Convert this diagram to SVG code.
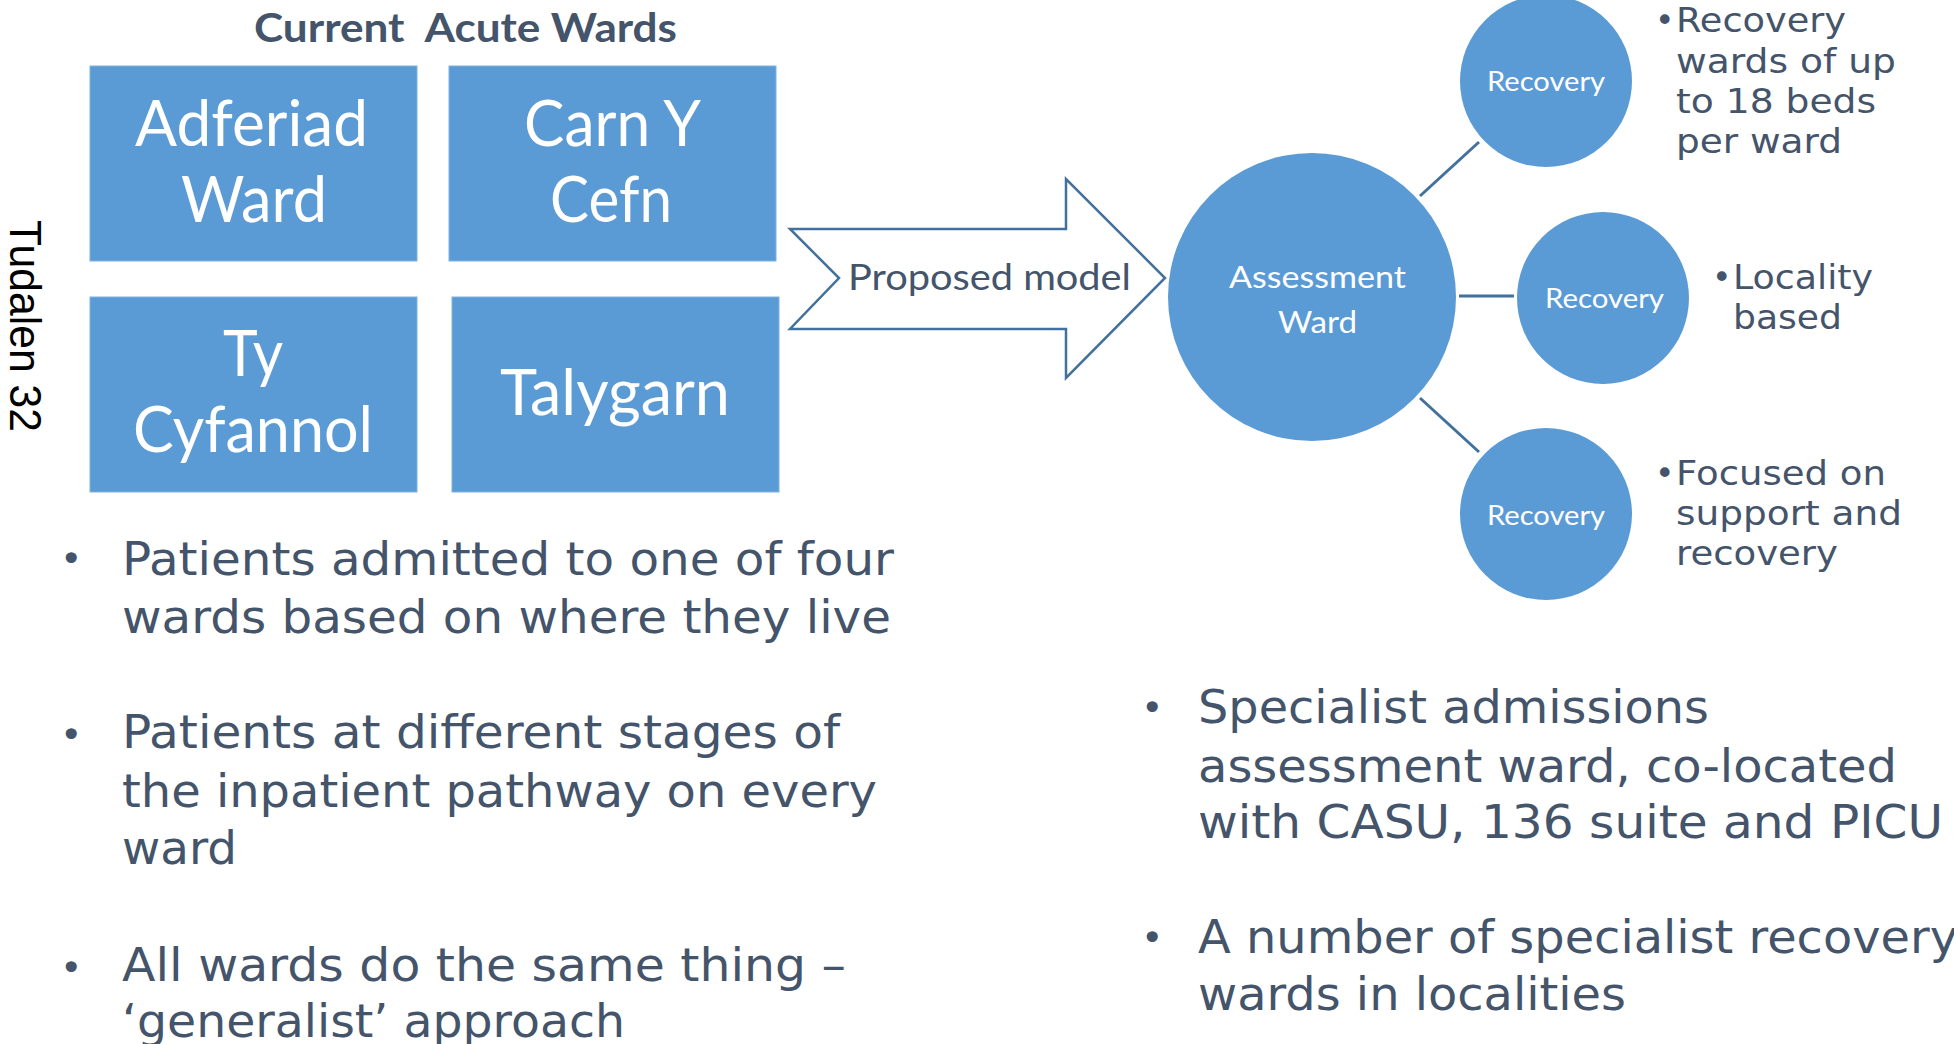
<svg xmlns="http://www.w3.org/2000/svg" width="1954" height="1044" viewBox="0 0 1954 1044">
<style>
.box{fill:#5B9BD5;stroke:#7FB2E0;stroke-width:1}
.circ{fill:#5B9BD5}
.wt{fill:#FFFFFF;font-family:Lato,"Open Sans",sans-serif}
.big{font-size:64px}
.dk{fill:#44546A}
.cal{font-family:Lato,"Open Sans",sans-serif}
.ver{font-family:"DejaVu Sans",Verdana,sans-serif}
.conn{stroke:#41719C;stroke-width:3;fill:none}
</style>
<rect width="1954" height="1044" fill="#FFFFFF"/>
<text x="254" y="42" class="cal dk" font-size="40" font-weight="bold" textLength="423" lengthAdjust="spacingAndGlyphs" xml:space="preserve">Current  Acute Wards</text>
<text transform="translate(10,220) rotate(90)" font-family="Liberation Sans, Arial, sans-serif" font-size="44" fill="#000000" textLength="212" lengthAdjust="spacingAndGlyphs">Tudalen 32</text>

<g id="adferiad">
<rect class="box" x="90" y="66" width="327" height="195"/>
<text class="wt big" x="135" y="146" textLength="233" lengthAdjust="spacingAndGlyphs">Adferiad</text>
<text class="wt big" x="181" y="222" textLength="146" lengthAdjust="spacingAndGlyphs">Ward</text>
</g>
<g id="carn-y-cefn">
<rect class="box" x="449" y="66" width="327" height="195"/>
<text class="wt big" x="524" y="146" textLength="177" lengthAdjust="spacingAndGlyphs">Carn Y</text>
<text class="wt big" x="550" y="222" textLength="122" lengthAdjust="spacingAndGlyphs">Cefn</text>
</g>
<g id="ty-cyfannol">
<rect class="box" x="90" y="297" width="327" height="195"/>
<text class="wt big" x="223" y="376" textLength="60" lengthAdjust="spacingAndGlyphs">Ty</text>
<text class="wt big" x="133" y="452" textLength="240" lengthAdjust="spacingAndGlyphs">Cyfannol</text>
</g>
<g id="talygarn">
<rect class="box" x="452" y="297" width="327" height="195"/>
<text class="wt big" x="500" y="415" textLength="230" lengthAdjust="spacingAndGlyphs">Talygarn</text>
</g>

<g id="proposed-model">
<path d="M790,229 L1066,229 L1066,179 L1165,278 L1066,378 L1066,329 L790,329 L839,278 Z" fill="#FFFFFF" stroke="#41719C" stroke-width="2.5" stroke-linejoin="miter"/>
<text x="848" y="290" class="cal dk" font-size="36" textLength="283" lengthAdjust="spacingAndGlyphs">Proposed model</text>
</g>

<g id="connectors">
<line class="conn" x1="1420" y1="196" x2="1479" y2="142"/>
<line class="conn" x1="1459" y1="296" x2="1514" y2="296"/>
<line class="conn" x1="1420" y1="398" x2="1479" y2="452"/>
</g>

<g id="assessment-ward">
<circle class="circ" cx="1312" cy="297" r="144"/>
<text class="wt" font-size="30" x="1229" y="288" textLength="177" lengthAdjust="spacingAndGlyphs">Assessment</text>
<text class="wt" font-size="30" x="1278" y="333" textLength="79" lengthAdjust="spacingAndGlyphs">Ward</text>
</g>
<g id="recovery-top">
<circle class="circ" cx="1546" cy="81" r="86"/>
<text class="wt" font-size="27" x="1487" y="91" textLength="118" lengthAdjust="spacingAndGlyphs">Recovery</text>
</g>
<g id="recovery-mid">
<circle class="circ" cx="1603" cy="298" r="86"/>
<text class="wt" font-size="27" x="1545" y="308" textLength="119" lengthAdjust="spacingAndGlyphs">Recovery</text>
</g>
<g id="recovery-bottom">
<circle class="circ" cx="1546" cy="514" r="86"/>
<text class="wt" font-size="27" x="1487" y="525" textLength="118" lengthAdjust="spacingAndGlyphs">Recovery</text>
</g>

<g id="notes-right" class="ver dk" font-size="33">
<text x="1655" y="32">•</text>
<text x="1676" y="32" textLength="170" lengthAdjust="spacingAndGlyphs">Recovery</text>
<text x="1676" y="73" textLength="220" lengthAdjust="spacingAndGlyphs">wards of up</text>
<text x="1676" y="113" textLength="200" lengthAdjust="spacingAndGlyphs">to 18 beds</text>
<text x="1676" y="153" textLength="166" lengthAdjust="spacingAndGlyphs">per ward</text>
<text x="1712" y="289">•</text>
<text x="1733" y="289" textLength="140" lengthAdjust="spacingAndGlyphs">Locality</text>
<text x="1733" y="329" textLength="109" lengthAdjust="spacingAndGlyphs">based</text>
<text x="1655" y="485">•</text>
<text x="1676" y="485" textLength="210" lengthAdjust="spacingAndGlyphs">Focused on</text>
<text x="1676" y="525" textLength="226" lengthAdjust="spacingAndGlyphs">support and</text>
<text x="1676" y="565" textLength="162" lengthAdjust="spacingAndGlyphs">recovery</text>
</g>

<g id="bullets-left" class="ver dk" font-size="46">
<text x="60" y="572" font-size="38">•</text>
<text x="122" y="575" textLength="772" lengthAdjust="spacingAndGlyphs">Patients admitted to one of four</text>
<text x="122" y="633" textLength="769" lengthAdjust="spacingAndGlyphs">wards based on where they live</text>
<text x="60" y="748" font-size="38">•</text>
<text x="122" y="748" textLength="718" lengthAdjust="spacingAndGlyphs">Patients at different stages of</text>
<text x="122" y="807" textLength="755" lengthAdjust="spacingAndGlyphs">the inpatient pathway on every</text>
<text x="122" y="864" textLength="115" lengthAdjust="spacingAndGlyphs">ward</text>
<text x="60" y="981" font-size="38">•</text>
<text x="122" y="981" textLength="724" lengthAdjust="spacingAndGlyphs">All wards do the same thing –</text>
<text x="122" y="1037" textLength="503" lengthAdjust="spacingAndGlyphs">‘generalist’ approach</text>
</g>

<g id="bullets-right" class="ver dk" font-size="46">
<text x="1141" y="721" font-size="38">•</text>
<text x="1198" y="723" textLength="511" lengthAdjust="spacingAndGlyphs">Specialist admissions</text>
<text x="1198" y="782" textLength="699" lengthAdjust="spacingAndGlyphs">assessment ward, co-located</text>
<text x="1198" y="838" textLength="745" lengthAdjust="spacingAndGlyphs">with CASU, 136 suite and PICU</text>
<text x="1141" y="951" font-size="38">•</text>
<text x="1198" y="953" textLength="760" lengthAdjust="spacingAndGlyphs">A number of specialist recovery</text>
<text x="1198" y="1010" textLength="428" lengthAdjust="spacingAndGlyphs">wards in localities</text>
</g>
</svg>
